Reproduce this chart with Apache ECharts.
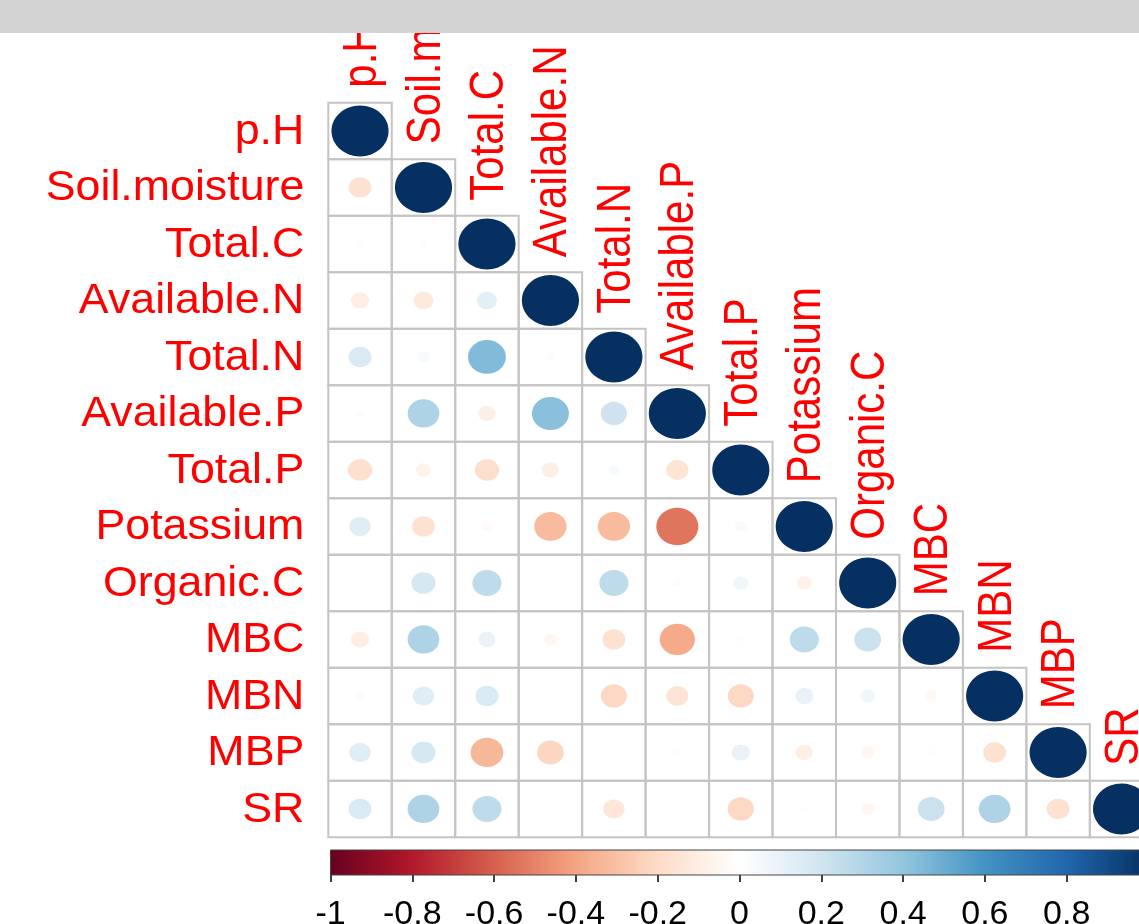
<!DOCTYPE html>
<html>
<head>
<meta charset="utf-8">
<script src="https://cdn.jsdelivr.net/npm/echarts@6/dist/echarts.min.js"></script>
<style>
html,body{margin:0;padding:0;background:#fff;overflow:hidden;}
#chart{width:1139px;height:924px;}
</style>
</head>
<body>
<div id="chart"></div>
<script>
// ---- data ----
const vars = ['p.H','Soil.moisture','Total.C','Available.N','Total.N','Available.P','Total.P','Potassium','Organic.C','MBC','MBN','MBP','SR'];

// lower-triangle correlation rows (row i, columns 0..i)
const rowPH         = [1];
const rowSoil       = [-0.16, 1];
const rowTotalC     = [0.02, 0.02, 1];
const rowAvailN     = [-0.10, -0.12, 0.12, 1];
const rowTotalN     = [0.16, 0.04, 0.44, -0.02, 1];
const rowAvailP     = [-0.02, 0.31, -0.09, 0.42, 0.21, 1];
const rowTotalP     = [-0.18, -0.07, -0.18, -0.09, 0.04, -0.15, 1];
const rowPotassium  = [0.14, -0.16, -0.03, -0.32, -0.32, -0.54, 0.04, 1];
const rowOrganicC   = [0.01, 0.18, 0.26, 0.01, 0.26, 0.02, 0.07, -0.07, 1];
const rowMBC        = [-0.10, 0.31, 0.09, -0.05, -0.16, -0.38, -0.01, 0.26, 0.22, 1];
const rowMBN        = [0.02, 0.14, 0.16, 0.01, -0.21, -0.15, -0.21, 0.10, 0.07, -0.04, 1];
const rowMBP        = [0.14, 0.18, -0.33, -0.22, 0.01, 0.02, 0.10, -0.09, -0.05, -0.01, -0.16, 1];
const rowSR         = [0.16, 0.31, 0.26, 0.01, -0.14, 0.01, -0.21, -0.01, -0.05, 0.22, 0.31, -0.16, 1];

const corrRows = [rowPH, rowSoil, rowTotalC, rowAvailN, rowTotalN, rowAvailP, rowTotalP,
                  rowPotassium, rowOrganicC, rowMBC, rowMBN, rowMBP, rowSR];

const palette = ['#67001F','#B2182B','#D6604D','#F4A582','#FDDBC7','#FFFFFF','#D1E5F0','#92C5DE','#4393C3','#2166AC','#053061'];
const legendRange = [-1, 1];
const legendStep = 0.2;

// ---- build series data ----
const cellData = [];
corrRows.forEach(function (row, i) {
  row.forEach(function (v, j) { cellData.push([j, i, v]); });
});
const labelData = vars.map(function (v, i) { return [i, i]; });

const FONT = 'Liberation Sans, Arial, sans-serif';
const chart = echarts.init(document.getElementById('chart'));

chart.setOption({
  animation: false,
  backgroundColor: '#ffffff',
  grid: [
    {left: 328.3, top: 102.7, width: 825, height: 734.5, outerBoundsMode: 'none', containLabel: false},
    {left: 330.5, top: 850, width: 818, height: 25, outerBoundsMode: 'none', containLabel: false}
  ],
  xAxis: [
    {gridIndex: 0, type: 'category', data: vars, show: false},
    {gridIndex: 1, type: 'value', min: legendRange[0], max: legendRange[1], interval: legendStep,
     position: 'bottom',
     axisLine: {show: false},
     axisTick: {show: true, length: 7, lineStyle: {color: '#000', width: 1.5}},
     splitLine: {show: false},
     axisLabel: {color: '#000', fontSize: 34, fontFamily: FONT, margin: 23,
       formatter: function (v) { return String(Math.round(v * 10) / 10); }}}
  ],
  yAxis: [
    {gridIndex: 0, type: 'category', data: vars, inverse: true, show: false},
    {gridIndex: 1, type: 'value', min: 0, max: 1, show: false}
  ],
  visualMap: {
    show: false, type: 'continuous', min: legendRange[0], max: legendRange[1],
    dimension: 2, seriesIndex: 0, inRange: {color: palette}
  },
  graphic: [
    {type: 'rect', z: 100, shape: {x: 0, y: 0, width: 1139, height: 33}, style: {fill: '#D3D3D3'}}
  ],
  series: [
    {
      type: 'custom', xAxisIndex: 0, yAxisIndex: 0, data: cellData, clip: false,
      renderItem: function (params, api) {
        const c = api.coord([api.value(0), api.value(1)]);
        const s = api.size([1, 1]);
        const r = Math.sqrt(Math.abs(api.value(2)));
        return {
          type: 'group',
          children: [
            {type: 'rect', shape: {x: c[0] - s[0] / 2, y: c[1] - s[1] / 2, width: s[0], height: s[1]},
             style: {fill: 'rgba(0,0,0,0)', stroke: '#C4C4C4', lineWidth: 2}},
            {type: 'ellipse', shape: {cx: c[0], cy: c[1], rx: 0.45 * s[0] * r, ry: 0.45 * s[1] * r},
             style: {fill: api.visual('color')}}
          ]
        };
      }
    },
    {
      type: 'custom', xAxisIndex: 0, yAxisIndex: 0, data: labelData, clip: false, silent: true,
      renderItem: function (params, api) {
        const idx = api.value(0);
        const name = vars[idx];
        const c = api.coord([idx, api.value(1)]);
        const s = api.size([1, 1]);
        const left = api.coord([0, idx]);
        return {
          type: 'group',
          children: [
            {type: 'text', x: left[0] - s[0] / 2 - 24, y: c[1] + 1, scaleX: 1.065,
             style: {text: name, fill: '#FF0000', fontSize: 42, fontFamily: FONT,
                     align: 'right', verticalAlign: 'middle'}},
            {type: 'text', x: c[0] + 3, y: c[1] - s[1] / 2 - 15, rotation: Math.PI / 2, scaleY: 1.13,
             style: {text: name, fill: '#FF0000', fontSize: 42, fontFamily: FONT,
                     align: 'left', verticalAlign: 'middle'}}
          ]
        };
      }
    },
    {
      type: 'custom', xAxisIndex: 1, yAxisIndex: 1, data: [[legendRange[0], legendRange[1]]], clip: false, silent: true,
      renderItem: function (params, api) {
        const a = api.coord([api.value(0), 1]);
        const b = api.coord([api.value(1), 0]);
        const stops = palette.map(function (col, k) { return {offset: k / (palette.length - 1), color: col}; });
        return {
          type: 'rect',
          shape: {x: a[0], y: a[1], width: b[0] - a[0], height: b[1] - a[1]},
          style: {fill: new echarts.graphic.LinearGradient(0, 0, 1, 0, stops), stroke: '#444', lineWidth: 1}
        };
      }
    }
  ]
});
</script>
</body>
</html>
